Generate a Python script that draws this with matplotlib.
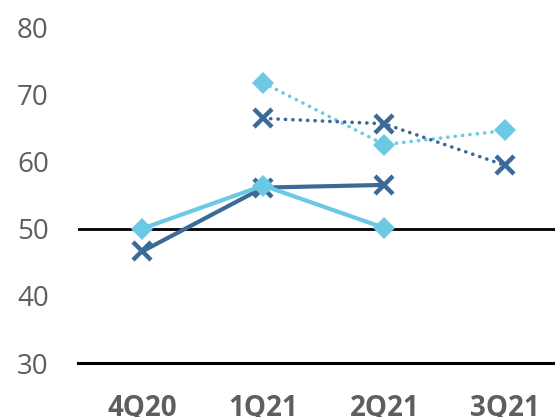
import matplotlib
matplotlib.use("Agg")
import matplotlib.pyplot as plt
import numpy as np

quarters = ["4Q20", "1Q21", "2Q21", "3Q21"]

# Actual readings (solid) and expectations (dotted); None = no value
actual_dark = [46.6, 56.1, 56.5, None]
actual_light = [50.0, 56.4, 50.1, None]
expected_dark = [None, 66.4, 65.6, 59.4]
expected_light = [None, 71.7, 62.5, 64.6]

yticks = [30, 40, 50, 60, 70, 80]

DARK = "#3C6A96"
LIGHT = "#6CC9E4"
GREY = "#5E5E5E"

plt.rcParams["font.family"] = ["Open Sans", "DejaVu Sans"]

fig = plt.figure(figsize=(5.55, 4.17), dpi=100)
ax = fig.add_axes([78 / 555, 1 - 363 / 417, 1 - 78 / 555, (363 - 27) / 417])


def series(vals):
    x = np.array([i for i, v in enumerate(vals) if v is not None], dtype=float)
    y = np.array([v for v in vals if v is not None], dtype=float)
    return x, y


ax.axhline(50, color="black", lw=2.0, zorder=1)
ax.axhline(30, color="black", lw=2.2, zorder=1, clip_on=False)

DOTS = (0, (0.05, 2.0))

x, y = series(actual_dark)
ax.plot(x, y, color=DARK, lw=3, marker="x", ms=13, mew=3.2, zorder=3)
x, y = series(actual_light)
ax.plot(x, y, color=LIGHT, lw=3, marker="D", ms=11.5, mew=0, zorder=4)
x, y = series(expected_light)
ax.plot(x, y, color=LIGHT, lw=2.6, ls=DOTS, marker="D", ms=11.5, mew=0,
        zorder=4, dash_capstyle="round")
x, y = series(expected_dark)
ax.plot(x, y, color=DARK, lw=2.6, ls=DOTS, marker="x", ms=13, mew=3.2,
        zorder=5, dash_capstyle="round")

ax.set_xlim(-0.53, 3.41)
ax.set_ylim(30, 80)
ax.set_yticks(yticks)
ax.set_yticklabels([str(t) for t in yticks], fontsize=20, color=GREY)
ax.set_xticks(range(len(quarters)))
ax.set_xticklabels(quarters, fontsize=20, color=GREY, fontweight="bold")
ax.tick_params(axis="y", length=0, pad=21)
ax.tick_params(axis="x", length=0, pad=22)
for s in ax.spines.values():
    s.set_visible(False)

fig.savefig("out.png", dpi=100)
